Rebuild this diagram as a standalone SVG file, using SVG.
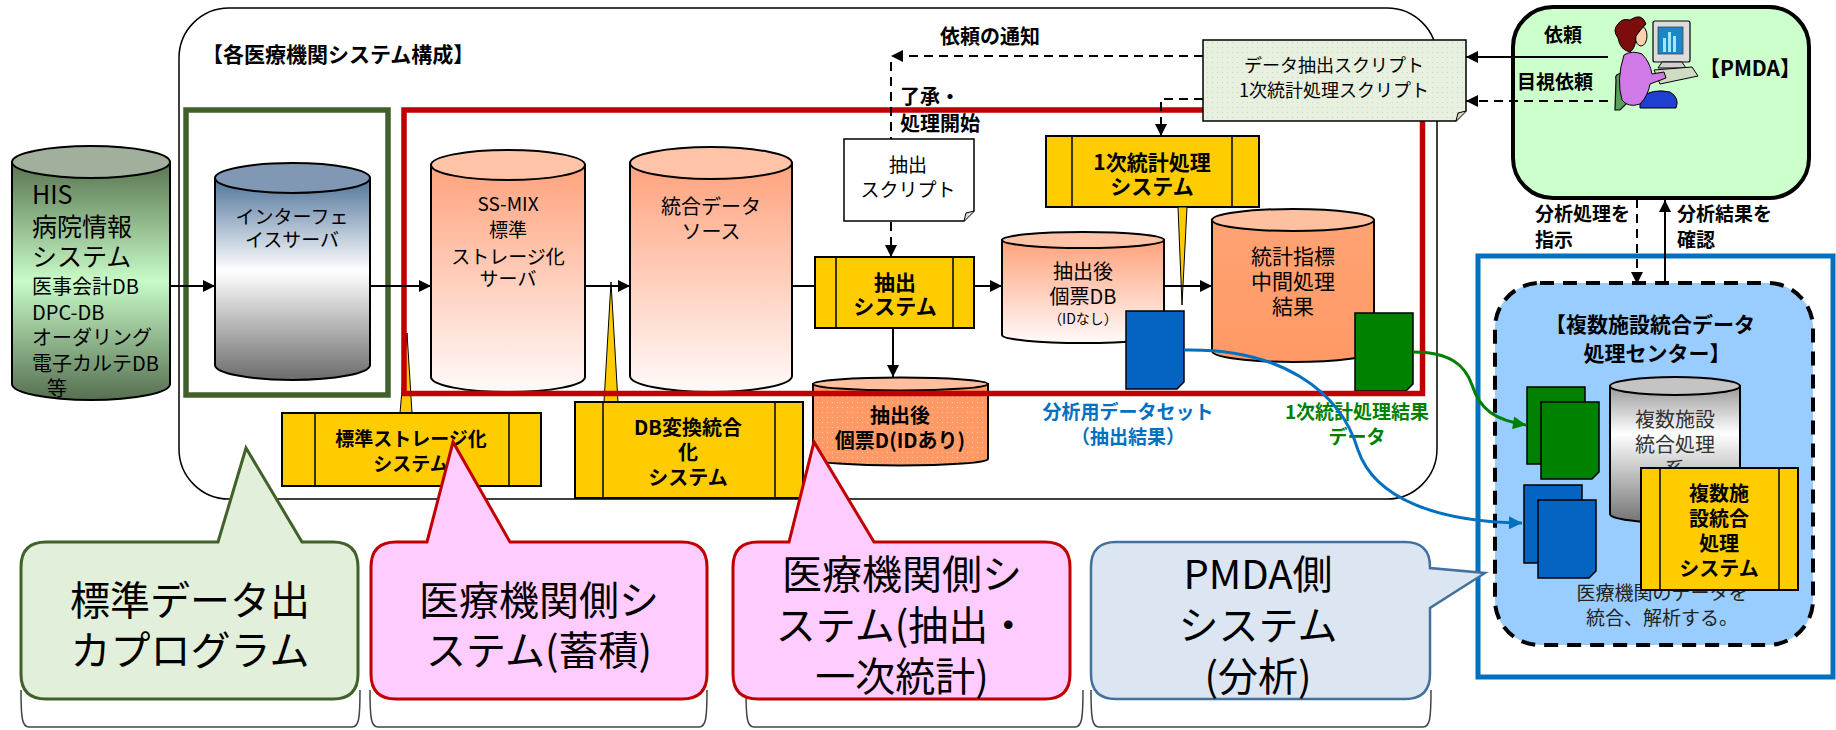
<svg xmlns="http://www.w3.org/2000/svg" width="1836" height="730" viewBox="0 0 1836 730">
<style>
  text { font-family: 'Noto Sans CJK JP', 'Noto Sans', sans-serif; fill: #000; }
  .b { font-weight: 700; }
  .c { text-anchor: middle; }
  .s14 { font-size: 14px; } .s18 { font-size: 18px; } .s19 { font-size: 19px; }
  .s20 { font-size: 20px; } .s21 { font-size: 21px; } .s25 { font-size: 25px; }
  .s40 { font-size: 40px; }
  .blue { fill: #0070c0; } .green { fill: #008000; } .gray { fill: #333; }
  .cyl { stroke: #000; stroke-width: 2; }
  .proc { fill: #ffcc00; stroke: #000; stroke-width: 2; }
  .bar { stroke: #000; stroke-width: 1.5; }
  .spike { fill: #ffcc00; stroke: #000; stroke-width: 1; }
  .ln { fill: none; stroke: #000; stroke-width: 2; }
  .dash { fill: none; stroke: #000; stroke-width: 2; stroke-dasharray: 9 6; }
  .doc { stroke: #000; stroke-width: 1.5; }
  .brace { fill: none; stroke: #444; stroke-width: 1.5; }
</style>
<defs>
  <marker id="arr" viewBox="0 0 10 10" refX="10" refY="5" markerWidth="13" markerHeight="12" markerUnits="userSpaceOnUse" orient="auto">
    <path d="M0 0 L10 5 L0 10 Z" fill="#000"/>
  </marker>
  <marker id="arrBlue" viewBox="0 0 10 10" refX="10" refY="5" markerWidth="14" markerHeight="13" markerUnits="userSpaceOnUse" orient="auto">
    <path d="M0 0 L10 5 L0 10 Z" fill="#0070c0"/>
  </marker>
  <marker id="arrGreen" viewBox="0 0 10 10" refX="10" refY="5" markerWidth="14" markerHeight="13" markerUnits="userSpaceOnUse" orient="auto">
    <path d="M0 0 L10 5 L0 10 Z" fill="#008000"/>
  </marker>
  <linearGradient id="gHis" x1="0" y1="0" x2="0" y2="1">
    <stop offset="0" stop-color="#58744f"/>
    <stop offset="0.5" stop-color="#c8fbc8"/>
    <stop offset="1" stop-color="#566f50"/>
  </linearGradient>
  <linearGradient id="gIf" x1="0" y1="0" x2="0" y2="1">
    <stop offset="0" stop-color="#50739a"/>
    <stop offset="0.46" stop-color="#ffffff"/>
    <stop offset="1" stop-color="#6c6c6c"/>
  </linearGradient>
  <linearGradient id="gSalmon" x1="0" y1="0" x2="0" y2="1">
    <stop offset="0" stop-color="#ffa27c"/>
    <stop offset="1" stop-color="#fffafa"/>
  </linearGradient>
  <linearGradient id="gOrange" x1="0" y1="0" x2="0" y2="1">
    <stop offset="0" stop-color="#ffa374"/>
    <stop offset="1" stop-color="#ff9966"/>
  </linearGradient>
  <linearGradient id="gGray" x1="0" y1="0" x2="0" y2="1">
    <stop offset="0" stop-color="#9a9a9a"/>
    <stop offset="0.35" stop-color="#ffffff"/>
    <stop offset="1" stop-color="#727272"/>
  </linearGradient>
  <pattern id="dotsOrange" width="5" height="5" patternUnits="userSpaceOnUse">
    <rect width="5" height="5" fill="#ff9966"/>
    <circle cx="2.5" cy="2.5" r="0.6" fill="#ffd0b4"/>
  </pattern>
  <pattern id="dotsGreen" width="5" height="5" patternUnits="userSpaceOnUse">
    <rect width="5" height="5" fill="#e8f0e0"/>
    <circle cx="2.5" cy="2.5" r="0.55" fill="#c9d4bf"/>
  </pattern>
</defs>

<rect width="1836" height="730" fill="#fff"/>

<!-- brackets along the bottom edge -->
<g id="brackets">
  <path class="brace" d="M21 690 C21 718 22 727 29 727 L352 727 C359 727 360 718 360 690"/>
  <path class="brace" d="M370 690 C370 718 371 727 378 727 L699 727 C706 727 707 718 707 690"/>
  <path class="brace" d="M746 690 C746 718 747 727 754 727 L1075 727 C1082 727 1083 718 1083 690"/>
  <path class="brace" d="M1091 690 C1091 718 1092 727 1099 727 L1423 727 C1430 727 1431 718 1431 690"/>
</g>

<!-- hospital-side container -->
<g id="hospital-system">
  <rect x="179" y="8" width="1258" height="491" rx="50" fill="#fff" stroke="#000" stroke-width="1.5"/>
  <text class="b s21" x="202" y="62">【各医療機関システム構成】</text>
</g>

<!-- PMDA-side region -->
<g id="pmda-region">
  <rect x="1478" y="256" width="355" height="421" fill="#fff" stroke="#0070c0" stroke-width="5"/>
</g>

<!-- PMDA -->
<g id="pmda">
  <rect x="1513" y="7" width="296" height="191" rx="40" fill="#ccffcc" stroke="#000" stroke-width="4"/>
  <text class="b s19 c" x="1563" y="42">依頼</text>
  <text class="b s19" x="1517" y="89">目視依頼</text>
  <text class="b s21 c" x="1750" y="76">【PMDA】</text>
  <g id="pmda-user">
    <path d="M1616 80 Q1614 74 1622 73 L1634 75 Q1640 78 1638 86 L1636 100 L1626 104 L1620 110 L1615 110 Z" fill="#5aa05a" stroke="#000" stroke-width="1.2"/>
    <rect x="1653" y="21" width="37" height="41" rx="2" fill="#dcdcdc" stroke="#000" stroke-width="1.2"/>
    <rect x="1658" y="27" width="25" height="27" fill="#1b86c8" stroke="#444" stroke-width="0.8"/>
    <rect x="1663" y="38" width="3" height="14" fill="#9fe6ff"/>
    <rect x="1668" y="32" width="3" height="20" fill="#9fe6ff"/>
    <rect x="1673" y="36" width="3" height="16" fill="#9fe6ff"/>
    <path d="M1662 62 H1682 L1686 68 H1658 Z" fill="#cfcfcf" stroke="#000" stroke-width="1"/>
    <path d="M1654 70 L1692 67 L1698 76 L1660 84 Z" fill="#cfdcc3" stroke="#000" stroke-width="1"/>
    <path d="M1640 98 Q1652 88 1670 92 Q1680 98 1676 108 H1640 Z" fill="#1f3fd0" stroke="#000" stroke-width="1"/>
    <path d="M1624 55 Q1632 50 1642 54 Q1650 62 1652 74 L1664 72 L1666 78 L1650 84 Q1648 96 1640 104 Q1628 108 1622 100 Q1616 80 1624 55 Z" fill="#d07ae8" stroke="#000" stroke-width="1"/>
    <ellipse cx="1641" cy="36" rx="6" ry="10" fill="#f8d2ae" stroke="#000" stroke-width="1"/>
    <path d="M1630 20 Q1642 12 1646 24 Q1640 30 1636 36 Q1636 48 1630 52 Q1620 50 1618 38 Q1612 30 1618 24 Q1622 18 1630 20 Z" fill="#7d0c0c" stroke="#000" stroke-width="1"/>
  </g>
  <text class="b s19" x="1535" y="221">分析処理を<tspan x="1535" dy="26">指示</tspan></text>
  <text class="b s19" x="1677" y="221">分析結果を<tspan x="1677" dy="26">確認</tspan></text>
</g>

<!-- multi-facility data processing center -->
<g id="data-center">
  <rect x="1495" y="283" width="318" height="362" rx="45" fill="#99ccff" stroke="#000" stroke-width="4" stroke-dasharray="14 9"/>
  <text class="b s21 c" x="1650" y="332">【複数施設統合データ<tspan x="1657" dy="29">処理センター】</tspan></text>
  <g id="dc-green-docs">
    <path class="doc" d="M1527 387 H1585 V457 L1578 464 H1527 Z" fill="#008000"/>
    <path class="doc" d="M1541 402 H1599 V472 L1592 479 H1541 Z" fill="#008000"/>
  </g>
  <g id="dc-blue-docs">
    <path class="doc" d="M1524 485 H1582 V556 L1575 563 H1524 Z" fill="#0563c1"/>
    <path class="doc" d="M1538 500 H1596 V571 L1589 578 H1538 Z" fill="#0563c1"/>
  </g>
  <g id="dc-db">
    <path class="cyl" d="M1610 386 V514 A65 9 0 0 0 1740 514 V386 Z" fill="url(#gGray)"/>
    <ellipse class="cyl" cx="1675" cy="386" rx="65" ry="9" fill="#c4c4c4"/>
    <text class="s20 c gray" x="1675" y="427">複数施設<tspan x="1675" dy="25">統合処理</tspan><tspan x="1675" dy="25">系</tspan></text>
  </g>
  <text class="s19 c" x="1662" y="600" style="fill:#222">医療機関のデータを<tspan x="1662" dy="25">統合、解析する。</tspan></text>
  <g id="dc-process">
    <rect class="proc" x="1641" y="468" width="157" height="122"/>
    <line class="bar" x1="1660" y1="468" x2="1660" y2="590"/>
    <line class="bar" x1="1779" y1="468" x2="1779" y2="590"/>
    <text class="b s20 c" x="1719" y="501">複数施<tspan x="1719" dy="25">設統合</tspan><tspan x="1719" dy="25">処理</tspan><tspan x="1719" dy="25">システム</tspan></text>
  </g>
</g>

<!-- HIS -->
<g id="his">
  <path class="cyl" d="M12 162 V384 A79 16 0 0 0 170 384 V162 Z" fill="url(#gHis)"/>
  <ellipse class="cyl" cx="91" cy="162" rx="79" ry="16" fill="#a0b09c"/>
  <text class="s25" x="32" y="204">HIS<tspan x="32" dy="32">病院情報</tspan><tspan x="32" dy="30">システム</tspan></text>
  <text class="s20" x="32" y="294">医事会計DB<tspan x="32" dy="26">DPC-DB</tspan><tspan x="32" dy="25">オーダリング</tspan><tspan x="32" dy="26">電子カルテDB</tspan><tspan x="47" dy="25">等</tspan></text>
</g>

<!-- interface server -->
<g id="interface-server">
  <path class="cyl" d="M215 178 V365 A77.5 15 0 0 0 370 365 V178 Z" fill="url(#gIf)"/>
  <ellipse class="cyl" cx="292.5" cy="178" rx="77.5" ry="15" fill="#8098b3"/>
  <text class="s19 c" x="292" y="224">インターフェ<tspan x="292" dy="23">イスサーバ</tspan></text>
</g>

<!-- SS-MIX storage server -->
<g id="ssmix-server">
  <path class="cyl" d="M431 165 V377 A77 15 0 0 0 585 377 V165 Z" fill="url(#gSalmon)"/>
  <ellipse class="cyl" cx="508" cy="165" rx="77" ry="15" fill="#ffc4a8"/>
  <text class="s19 c" x="508" y="211">SS-MIX<tspan x="508" dy="26">標準</tspan><tspan x="508" dy="27">ストレージ化</tspan><tspan x="508" dy="22">サーバ</tspan></text>
</g>

<!-- integrated data source -->
<g id="integrated-source">
  <path class="cyl" d="M630 163 V376 A81 16 0 0 0 792 376 V163 Z" fill="url(#gSalmon)"/>
  <ellipse class="cyl" cx="711" cy="163" rx="81" ry="16" fill="#ffc4a8"/>
  <text class="s20 c" x="711" y="214">統合データ<tspan x="711" dy="25">ソース</tspan></text>
</g>

<!-- extraction script -->
<g id="extract-script">
  <path class="doc" d="M844 139 H974 V211 L964 221 H844 Z" fill="#fff"/>
  <path d="M964 221 L966 213 L974 211" fill="#ddd" stroke="#000" stroke-width="1"/>
  <text class="s19 c" x="908" y="172">抽出<tspan x="908" dy="25">スクリプト</tspan></text>
</g>

<!-- extraction system -->
<g id="extract-system">
  <rect class="proc" x="815" y="257" width="159" height="71"/>
  <line class="bar" x1="836" y1="257" x2="836" y2="328"/>
  <line class="bar" x1="953" y1="257" x2="953" y2="328"/>
  <text class="b s21 c" x="895" y="290">抽出<tspan x="895" dy="24">システム</tspan></text>
</g>

<!-- extracted record DB without ID -->
<g id="extract-db-noid">
  <path class="cyl" d="M1002 240 V335 A81 8 0 0 0 1164 335 V240 Z" fill="url(#gSalmon)"/>
  <ellipse class="cyl" cx="1083" cy="240" rx="81" ry="8" fill="#ffc4a8"/>
  <text class="s20 c" x="1083" y="279">抽出後<tspan x="1083" dy="25">個票DB</tspan><tspan x="1083" dy="20" style="font-size:14px">（IDなし）</tspan></text>
</g>

<!-- primary statistics system -->
<g id="stats-system">
  <rect class="proc" x="1046" y="136" width="213" height="71"/>
  <line class="bar" x1="1072" y1="136" x2="1072" y2="207"/>
  <line class="bar" x1="1232" y1="136" x2="1232" y2="207"/>
  <text class="b s21 c" x="1152" y="170">1次統計処理<tspan x="1152" dy="24">システム</tspan></text>
  <path class="spike" d="M1178 207 L1182 305 L1187 207 Z"/>
</g>

<!-- intermediate statistics result -->
<g id="stats-result">
  <path class="cyl" d="M1212 220 V351 A81 11 0 0 0 1374 351 V220 Z" fill="url(#gOrange)"/>
  <ellipse class="cyl" cx="1293" cy="220" rx="81" ry="11" fill="#ffc0a0"/>
  <text class="s21 c" x="1293" y="264">統計指標<tspan x="1293" dy="25">中間処理</tspan><tspan x="1293" dy="25">結果</tspan></text>
</g>

<!-- analysis dataset -->
<g id="analysis-dataset">
  <path class="doc" d="M1126 311 H1184 V382 L1177 389 H1126 Z" fill="#0563c1"/>
  <text class="b s19 c blue" x="1128" y="419">分析用データセット<tspan x="1128" dy="25">（抽出結果）</tspan></text>
</g>

<!-- primary statistics result data -->
<g id="stats-data">
  <path class="doc" d="M1355 313 H1413 V384 L1406 391 H1355 Z" fill="#008000"/>
  <text class="b s19 c green" x="1357" y="419">1次統計処理結果<tspan x="1357" dy="25">データ</tspan></text>
</g>

<!-- extracted record DB with ID -->
<g id="extract-db-id">
  <path class="cyl" d="M813 384 V459 A87.5 6.5 0 0 0 988 459 V384 Z" fill="url(#dotsOrange)"/>
  <ellipse class="cyl" cx="900.5" cy="384" rx="87.5" ry="6.5" fill="#ffbf9f"/>
  <text class="b s20 c" x="900" y="423">抽出後<tspan x="900" dy="25">個票D(IDあり)</tspan></text>
</g>

<!-- storage standardisation system -->
<g id="storage-system">
  <path class="spike" d="M400 413 L407 333 L412 413 Z"/>
  <rect class="proc" x="282" y="413" width="259" height="73"/>
  <line class="bar" x1="315" y1="413" x2="315" y2="486"/>
  <line class="bar" x1="509" y1="413" x2="509" y2="486"/>
  <text class="b s19 c" x="411" y="446">標準ストレージ化<tspan x="411" dy="25">システム</tspan></text>
</g>

<!-- DB conversion / integration system -->
<g id="db-convert-system">
  <path class="spike" d="M604 402 L611 282 L618 402 Z"/>
  <rect class="proc" x="575" y="402" width="228" height="96"/>
  <line class="bar" x1="603" y1="402" x2="603" y2="498"/>
  <line class="bar" x1="775" y1="402" x2="775" y2="498"/>
  <text class="b s20 c" x="688" y="435">DB変換統合<tspan x="688" dy="25">化</tspan><tspan x="688" dy="25">システム</tspan></text>
</g>

<!-- group frames -->
<g id="frames">
  <rect x="186" y="110" width="202" height="285" fill="none" stroke="#41612a" stroke-width="5.5"/>
  <rect x="404" y="110" width="1018.5" height="283.5" fill="none" stroke="#c00000" stroke-width="5.5"/>
</g>

<!-- PMDA scripts -->
<g id="pmda-scripts">
  <path class="doc" d="M1203 40 H1466 V111 L1456 121 H1203 Z" fill="url(#dotsGreen)"/>
  <path d="M1456 121 L1458 113 L1466 111" fill="#cfd9c6" stroke="#000" stroke-width="1"/>
  <text class="s18 c" x="1334" y="72">データ抽出スクリプト<tspan x="1334" dy="25">1次統計処理スクリプト</tspan></text>
</g>

<!-- connectors -->
<g id="connectors">
  <path class="ln" d="M170 286 H215" marker-end="url(#arr)"/>
  <path class="ln" d="M370 286 H431" marker-end="url(#arr)"/>
  <path class="ln" d="M585 286 H630" marker-end="url(#arr)"/>
  <path class="ln" d="M792 286 H815"/>
  <path class="ln" d="M974 286 H1002" marker-end="url(#arr)"/>
  <path class="ln" d="M1164 286 H1212" marker-end="url(#arr)"/>
  <path class="ln" d="M893 328 V377" marker-end="url(#arr)"/>
  <path class="ln" d="M1608 57 H1466" marker-end="url(#arr)"/>
  <path class="dash" d="M1608 101 H1466" marker-end="url(#arr)"/>
  <path class="dash" d="M1203 56 H891" marker-end="url(#arr)"/>
  <text class="b s20 c" x="990" y="44">依頼の通知</text>
  <path class="dash" d="M891 62 V139"/>
  <text class="b s20" x="900" y="104">了承・<tspan x="900" dy="27">処理開始</tspan></text>
  <path class="dash" d="M891 222 V257" marker-end="url(#arr)"/>
  <path class="dash" d="M1203 99 H1161 V136" marker-end="url(#arr)"/>
  <path class="dash" d="M1637 199 V284" marker-end="url(#arr)"/>
  <path class="ln" d="M1665 283 V200" marker-end="url(#arr)"/>
  <path d="M1184 350 C1280 348 1340 390 1358 450 C1375 500 1440 522 1522 523" fill="none" stroke="#0070c0" stroke-width="3" marker-end="url(#arrBlue)"/>
  <path d="M1413 352 C1450 352 1465 365 1472 385 C1480 410 1495 420 1526 425" fill="none" stroke="#008000" stroke-width="3" marker-end="url(#arrGreen)"/>
</g>

<!-- callouts -->
<g id="callout-output">
  <path d="M46 542 H218 L246 448 L302 542 H333 Q358 542 358 567 V674 Q358 699 333 699 H46 Q21 699 21 674 V567 Q21 542 46 542 Z" fill="#e2efda" stroke="#41612a" stroke-width="3"/>
  <text class="s40 c" x="190" y="615">標準データ出<tspan x="190" dy="50">カプログラム</tspan></text>
</g>
<g id="callout-storage">
  <path d="M396 542 H427 L453 442 L510 542 H682 Q707 542 707 567 V674 Q707 699 682 699 H396 Q371 699 371 674 V567 Q371 542 396 542 Z" fill="#ffccff" stroke="#c00000" stroke-width="3"/>
  <text class="s40 c" x="539" y="615">医療機関側シ<tspan x="539" dy="50">ステム(蓄積)</tspan></text>
</g>
<g id="callout-extract">
  <path d="M758 542 H789 L814 442 L874 542 H1045 Q1070 542 1070 567 V674 Q1070 699 1045 699 H758 Q733 699 733 674 V567 Q733 542 758 542 Z" fill="#ffccff" stroke="#c00000" stroke-width="3"/>
  <text class="s40 c" x="902" y="589">医療機関側シ<tspan x="902" dy="51">ステム(抽出・</tspan><tspan x="902" dy="51">一次統計)</tspan></text>
</g>
<g id="callout-pmda">
  <path d="M1116 542 H1405 Q1430 542 1430 567 V568 L1485 573 L1430 608 V674 Q1430 699 1405 699 H1116 Q1091 699 1091 674 V567 Q1091 542 1116 542 Z" fill="#dce6f2" stroke="#41719c" stroke-width="2.5"/>
  <text class="s40 c" x="1258" y="589">PMDA側<tspan x="1258" dy="51">システム</tspan><tspan x="1258" dy="51">(分析)</tspan></text>
</g>
</svg>
